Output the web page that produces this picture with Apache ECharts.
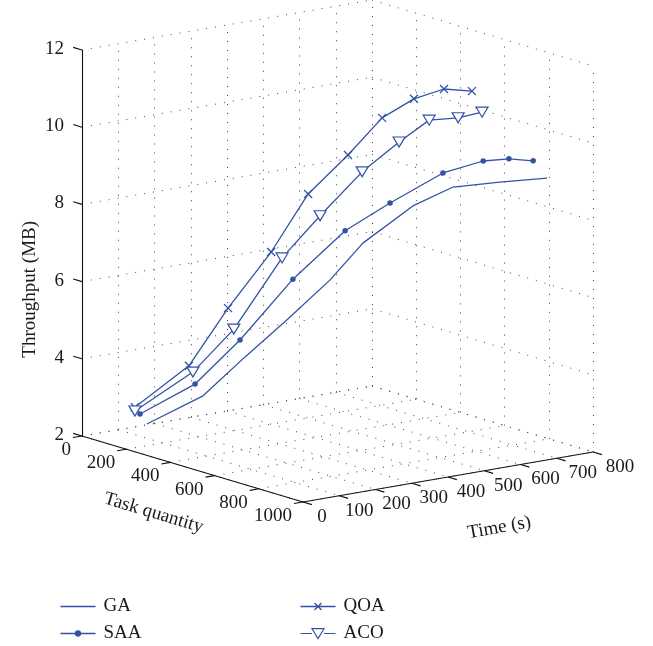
<!DOCTYPE html>
<html><head><meta charset="utf-8">
<script src="https://cdn.jsdelivr.net/npm/echarts@6/dist/echarts.min.js"></script>
<style>html,body{margin:0;padding:0;background:#fff}#c{width:653px;height:646px}</style>
</head><body><div id="c"></div>
<script>
// ---- data (task quantity, time (s), throughput (MB)) ----
const taskQuantity = [100, 200, 300, 400, 500, 600, 700, 800, 900, 1000];
const gaTime = [118, 212, 267, 324, 379, 409, 486, 536, 604, 673];
const gaThroughput = [2.29, 3.04, 4.13, 5.19, 6.28, 7.36, 8.37, 8.95, 9.14, 9.30];
const saaTime = [99, 190, 253, 338, 421, 484, 569, 619, 629, 635];
const saaThroughput = [2.58, 3.38, 4.59, 6.20, 7.49, 8.28, 9.09, 9.49, 9.70, 9.81];
const qoaTime = [85, 173, 220, 278, 319, 368, 401, 428, 450, 466];
const qoaThroughput = [2.78, 3.88, 5.47, 7.00, 8.61, 9.71, 10.79, 11.41, 11.80, 11.89];
const acoTime = [85, 184, 236, 308, 352, 407, 448, 470, 489, 494];
const acoThroughput = [2.68, 3.70, 4.90, 6.80, 7.99, 9.21, 10.09, 10.79, 10.99, 11.30];
const taskTicks = [0, 200, 400, 600, 800, 1000];
const timeTicks = [0, 100, 200, 300, 400, 500, 600, 700, 800];
const throughputTicks = [2, 4, 6, 8, 10, 12];
const seriesNames = ['GA', 'SAA', 'QOA', 'ACO'];

// ---- view ----
const C = '#3452a5';
const FONT = '"Liberation Serif","DejaVu Serif",serif';
const TXT = '#1a1a1a';
const BOX = { task: [0, 1000], time: [0, 800], z: [2, 12] };
// orthographic projection of the 3D box onto the (hidden) screen-plane axes
const VIEW = { ox: 82, oy: 436, taskX: 0.221, taskY: 0.066, timeX: 0.3625, timeY: -0.0625, zY: -38.6 };
function proj(task, time, z) {
  return [VIEW.ox + VIEW.taskX * task + VIEW.timeX * time,
          VIEW.oy + VIEW.taskY * task + VIEW.timeY * time + VIEW.zY * (z - BOX.z[0])];
}
function to2d(tasks, times, zs) { return tasks.map((t, i) => proj(t, times[i], zs[i])); }
function seg(a, b) { return { coords: [proj(a[0], a[1], a[2]), proj(b[0], b[1], b[2])] }; }

const T0 = BOX.task[0], T1 = BOX.task[1], S0 = BOX.time[0], S1 = BOX.time[1], Z0 = BOX.z[0], Z1 = BOX.z[1];
const gridSegs = [];
timeTicks.forEach(t => { gridSegs.push(seg([T0, t, Z0], [T1, t, Z0])); gridSegs.push(seg([T0, t, Z0], [T0, t, Z1])); });
taskTicks.forEach(k => { gridSegs.push(seg([k, S0, Z0], [k, S1, Z0])); gridSegs.push(seg([k, S1, Z0], [k, S1, Z1])); });
throughputTicks.forEach(z => { gridSegs.push(seg([T0, S0, z], [T0, S1, z])); gridSegs.push(seg([T0, S1, z], [T1, S1, z])); });

const axisSegs = [
  seg([T0, S0, Z0], [T0, S0, Z1]),
  seg([T0, S0, Z0], [T1, S0, Z0]),
  seg([T1, S0, Z0], [T1, S1, Z0])
];
throughputTicks.forEach(z => axisSegs.push(seg([T0, S0, z], [T0 - 40, S0, z])));
taskTicks.forEach(k => axisSegs.push(seg([k, S0, Z0], [k, S0 - 25, Z0])));
timeTicks.forEach(t => axisSegs.push(seg([T1, t, Z0], [T1 + 40, t, Z0])));

function labelItems(api) {
  const ch = [];
  const st = (text, align, size) => ({ text: text, fontSize: size || 19, fontFamily: FONT, fill: TXT, align: align, verticalAlign: 'middle' });
  throughputTicks.forEach(z => {
    const p = api.coord(proj(T0, S0, z));
    ch.push({ type: 'text', x: p[0] - 18, y: p[1] - 1, style: st(String(z), 'right') });
  });
  taskTicks.forEach(k => {
    const p = api.coord(proj(k, S0, Z0));
    ch.push({ type: 'text', x: p[0] - 11, y: p[1] + 14, style: st(String(k), 'right') });
  });
  timeTicks.forEach(t => {
    const p = api.coord(proj(T1, t, Z0));
    ch.push({ type: 'text', x: p[0] + 19 + 0.01 * t, y: p[1] + 15, style: st(String(t), 'center') });
  });
  const a = api.coord(proj(T0, S0, 5.8));
  ch.push({ type: 'text', x: a[0] - 52, y: a[1], rotation: Math.PI / 2, style: st('Throughput (MB)', 'center') });
  const b = api.coord(proj(500, S0, Z0));
  ch.push({ type: 'text', x: b[0] - 39, y: b[1] + 44, rotation: -16.6 * Math.PI / 180, style: st('Task quantity', 'center') });
  const c = api.coord(proj(T1, 500, Z0));
  ch.push({ type: 'text', x: c[0] + 15, y: c[1] + 57, rotation: 10 * Math.PI / 180, style: st('Time (s)', 'center') });
  return ch;
}

const chart = echarts.init(document.getElementById('c'));
const legendText = { fontFamily: FONT, fontSize: 19, color: TXT, padding: [0, 0, 0, 3] };
const legendBase = { orient: 'vertical', top: 597, padding: 0, itemWidth: 35, itemHeight: 12, itemGap: 8, textStyle: legendText, selectedMode: false };
chart.setOption({
  animation: false,
  backgroundColor: '#fff',
  grid: { left: 0, right: 0, top: 0, bottom: 0 },
  xAxis: { type: 'value', min: 0, max: 653, show: false },
  yAxis: { type: 'value', min: 0, max: 646, inverse: true, show: false },
  legend: [
    Object.assign({}, legendBase, { left: 58, data: [
      { name: 'GA', icon: 'path://M0,0M35,12M0,6H35', itemStyle: { color: 'none', borderColor: C, borderWidth: 1.3 } },
      { name: 'SAA', icon: 'path://M0,0M35,12M0,6H35M20,6A2.5,2.5,0,1,1,15,6A2.5,2.5,0,1,1,20,6Z', itemStyle: { color: C, borderColor: C, borderWidth: 1.3 } }
    ] }),
    Object.assign({}, legendBase, { left: 298, data: [
      { name: 'QOA', icon: 'path://M0,0M35,12M0,6H35M14,2.5L21,9.5M14,9.5L21,2.5', itemStyle: { color: 'none', borderColor: C, borderWidth: 1.3 } },
      { name: 'ACO', icon: 'path://M0,0M35,12M0,6H11.5M23.5,6H35M11.5,1.2L23.5,1.2L17.5,11Z', itemStyle: { color: '#fff', borderColor: C, borderWidth: 1.2 } }
    ] })
  ],
  series: [
    { type: 'lines', coordinateSystem: 'cartesian2d', silent: true, z: 1, polyline: false,
      lineStyle: { color: '#444', width: 1, type: [1, 8], opacity: 1 }, data: gridSegs },
    { type: 'lines', coordinateSystem: 'cartesian2d', silent: true, z: 2, polyline: false,
      lineStyle: { color: '#111', width: 1.1, type: 'solid', opacity: 1 }, data: axisSegs },
    { type: 'custom', coordinateSystem: 'cartesian2d', silent: true, z: 3, data: [0],
      renderItem: (params, api) => ({ type: 'group', children: labelItems(api) }) },
    { name: seriesNames[0], type: 'line', z: 10, clip: false, color: C, symbol: 'none',
      lineStyle: { color: C, width: 1.3 }, data: to2d(taskQuantity, gaTime, gaThroughput) },
    { name: seriesNames[1], type: 'line', z: 10, clip: false, color: C, symbol: 'circle', symbolSize: 5.5,
      itemStyle: { color: C }, lineStyle: { color: C, width: 1.3 }, data: to2d(taskQuantity, saaTime, saaThroughput) },
    { name: seriesNames[2], type: 'line', z: 10, clip: false, color: C, symbol: 'path://M0,0L10,10M0,10L10,0', symbolSize: 8,
      itemStyle: { color: C, borderColor: C, borderWidth: 1.3 }, lineStyle: { color: C, width: 1.3 }, data: to2d(taskQuantity, qoaTime, qoaThroughput) },
    { name: seriesNames[3], type: 'line', z: 11, clip: false, color: C, symbol: 'path://M0,0L10,0L5,8.66Z', symbolSize: [12, 10],
      itemStyle: { color: '#fff', borderColor: C, borderWidth: 1.2 }, lineStyle: { color: C, width: 1.3 }, data: to2d(taskQuantity, acoTime, acoThroughput) }
  ]
});
</script>
</body></html>
